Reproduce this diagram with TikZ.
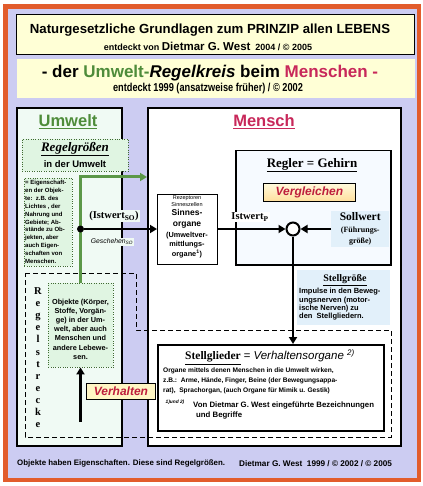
\documentclass[tikz,border=0pt]{standalone}
\usepackage{fontspec}
\setmainfont{Liberation Serif}
\setsansfont{Liberation Sans}
\newfontfamily\narrowsans[FakeStretch=0.8]{Liberation Sans}
\usetikzlibrary{arrows.meta,positioning,calc}

\definecolor{lavender}{RGB}{204,204,242}
\definecolor{frameorange}{RGB}{226,92,44}
\definecolor{titleyellow}{RGB}{255,255,214}
\definecolor{mint}{RGB}{240,250,244}
\definecolor{boxgreen}{RGB}{224,245,226}
\definecolor{linegreen}{RGB}{92,152,72}
\definecolor{headgreen}{RGB}{78,140,58}
\definecolor{crimson}{RGB}{190,30,60}
\definecolor{menschred}{RGB}{200,40,90}
\definecolor{paleblue}{RGB}{226,240,250}
\definecolor{reglerbg}{RGB}{246,250,255}
\definecolor{tagyellow}{RGB}{255,246,196}

\newcommand\fsz[2]{\fontsize{#1}{#2}\selectfont}

\tikzset{
  panel/.style={draw=black, line width=1.6pt, inner sep=0pt, anchor=north west},
  dotbox/.style={draw=linegreen!70!black, dotted, fill=boxgreen, inner sep=0pt, anchor=north west},
  tagbox/.style={draw=black, line width=0.9pt, fill=tagyellow, text=crimson,
    font=\sffamily\bfseries\itshape\fsz{12}{12}, inner sep=0pt, anchor=north west},
  flow/.style={line width=2.6pt, -{Triangle[length=7pt,width=8pt]}},
  txt/.style={align=center, inner sep=0pt},
  sanstxt/.style={txt, font=\sffamily\bfseries},
}

\begin{document}
\begin{tikzpicture}[x=1pt,y=-1pt]
\useasboundingbox (0,0) rectangle (422,486);
\draw[frameorange, line width=4.5pt, fill=lavender] (5.5,6.5) rectangle (419,480);

\node[panel, line width=1pt, fill=titleyellow, minimum width=398pt, minimum height=40pt] (titleA) at (16,14) {};
\node[sanstxt, font=\sffamily\bfseries\fsz{13.2}{14}] (titleAtop) at (210,30) {Naturgesetzliche Grundlagen zum PRINZIP allen LEBENS};
\node[sanstxt, font=\sffamily\bfseries\fsz{9}{10}] (titleAsub) at (208,46) {entdeckt von {\fsz{11.5}{10}Dietmar G. West}\ \ 2004 / © 2005};

\node[panel, draw=none, fill=titleyellow, minimum width=398pt, minimum height=39pt] (titleB) at (16,58) {};
\node[sanstxt, font=\sffamily\bfseries\fsz{17}{18}] (titleBtop) at (210,73) {- der {\color{headgreen}Umwelt-}{\itshape Regelkreis} beim {\color{menschred}Menschen -}};
\node[txt, font=\narrowsans\bfseries\fsz{11.5}{10}] (titleBsub) at (208,89) {entdeckt 1999 (ansatzweise früher) / © 2002};

\node[panel, fill=mint, minimum width=105pt, minimum height=338pt] (umwelt) at (16,107) {};
\node[panel, fill=white, minimum width=253pt, minimum height=338pt] (mensch) at (147,107) {};

\node[sanstxt, text=headgreen, font=\sffamily\bfseries\fsz{16.5}{16}] (umwelthead) at (68,122) {\underline{Umwelt}};
\node[sanstxt, text=menschred, font=\sffamily\bfseries\fsz{16.5}{16}] (menschhead) at (264,122) {\underline{Mensch}};

\node[dotbox, minimum width=106pt, minimum height=32pt] (regelgr) at (22,139) {};
\node[txt, font=\bfseries\itshape\fsz{13}{13}] (regelgrtop) at (75,149) {\underline{Regelgrößen}};
\node[sanstxt, font=\sffamily\bfseries\fsz{9.5}{10}] (regelgrsub) at (75,164) {in der Umwelt};

\node[dotbox, minimum width=48pt, minimum height=88pt] (eigensch) at (24,178) {};
\node[txt, align=left, anchor=north west, font=\sffamily\bfseries\fsz{6}{7.9}] (eigenschtxt) at (25,180)
  {= Eigenschaft-\\en der Objek-\\te:\ \ z.B. des\\Lichtes , der\\Nahrung und\\Gebiete; Ab-\\stände zu Ob-\\jekten, aber\\auch Eigen-\\schaften von\\Menschen.};

\draw[dashed, line width=1pt, dash pattern=on 5pt off 3pt] (25,273) -- (136,273) -- (136,330) -- (391,330) -- (391,437) -- (25,437) -- cycle;
\foreach \ch [count=\i] in {R,e,g,e,l,s,t,r,e,c,k,e}
  \node[inner sep=0pt, anchor=base, font=\bfseries\fsz{10.5}{10}] (rs\i) at (38,282.4+12.1*\i) {\ch};

\node[dotbox, minimum width=65pt, minimum height=84pt] (objekte) at (48,283) {};
\node[sanstxt, font=\sffamily\bfseries\fsz{7.3}{9.2}] (objektetxt) at (80.5,329)
  {Objekte (Körper,\\Stoffe, Vorgän-\\ge) in der Um-\\welt, aber auch\\Menschen und\\andere Lebewe-\\sen.};

\coordinate (greenend) at (147,177);
\draw[linegreen, line width=3pt, -{Triangle[length=7pt,width=8pt]}] (objekte.north) |- (greenend);

\node[panel, line width=1.3pt, fill=white, minimum width=60pt, minimum height=70pt] (sinnes) at (157,194) {};
\node[txt, anchor=north, font=\sffamily\fsz{5.5}{6.8}] (sinnestop) at (187,196) {Rezeptoren\\Sinneszellen};
\node[sanstxt, anchor=north, font=\sffamily\bfseries\fsz{8.5}{11}] (sinnesmid) at (187,209) {Sinnes-\\organe};
\node[sanstxt, anchor=north, font=\sffamily\bfseries\fsz{7.3}{9.5}] (sinnesbot) at (187,232) {(Umweltver-\\mittlungs-\\organe\textsuperscript{1})};

\node[circle, fill=black, inner sep=0pt, minimum size=7pt] (istdot) at (80.5,229) {};
\draw[flow] (istdot) -- (istdot -| sinnes.west);
\node[txt, fill=mint, inner sep=1pt, font=\bfseries\fsz{10.5}{10}] (istso) at (114,216) {(Istwert\textsubscript{SO})};
\node[txt, fill=mint, inner sep=1pt, font=\sffamily\itshape\fsz{6.8}{7}] (geschehen) at (112,242) {Geschehen\textsubscript{SO}};

\node[panel, line width=1.5pt, fill=reglerbg, minimum width=155pt, minimum height=114pt] (regler) at (235,150) {};
\node[txt, font=\bfseries\fsz{13}{13}] (reglerhead) at (312,165) {\underline{Regler = Gehirn}};
\node[tagbox, minimum width=92pt, minimum height=18pt, top color=tagyellow!60!white, bottom color=tagyellow!80!orange] (vergleichen) at (263,183) {Vergleichen};

\node[circle, draw=black, line width=2pt, fill=white, inner sep=0pt, minimum size=13pt] (mixer) at (293,229) {};
\draw[flow] (sinnes.east |- mixer) -- (mixer.west);
\node[txt, fill=white, inner sep=1pt, font=\bfseries\fsz{10.5}{10}] (istp) at (250,217) {Istwert\textsubscript{P}};

\node[txt, fill=paleblue, inner sep=1.5pt, text width=55pt, anchor=north west, font=\bfseries\fsz{8}{11.5}] (sollwert) at (331,211)
  {{\fsz{11.5}{12}Sollwert}\\(Führungs-\\größe)};
\coordinate (sollstart) at (331,229);
\draw[flow] (sollstart) -- (mixer.east);

\node[panel, fill=white, minimum width=226pt, minimum height=86pt] (stell) at (157,344) {};
\draw[flow] (mixer.south) -- (mixer.south |- stell.north);

\node[inner sep=0pt, fill=paleblue, minimum width=93pt, minimum height=55pt, anchor=north west] (stellgrbg) at (297,270) {};
\node[txt, font=\bfseries\fsz{10}{10}] (stellgr) at (345,280) {\underline{Stellgröße}};
\node[txt, align=left, anchor=north west, font=\sffamily\bfseries\fsz{7.5}{8.4}] (stellgrtxt) at (299,288)
  {Impulse in den Beweg-\\ungsnerven (motor-\\ische Nerven) zu\\den\ \ Stellgliedern.};

\node[txt, font=\fsz{11.5}{12}] (stellhead) at (270,357)
  {\textbf{\underline{Stellglieder}} {\sffamily\itshape = Verhaltensorgane \textsuperscript{2)}}};
\node[txt, align=left, anchor=north west, font=\sffamily\bfseries\fsz{6.6}{9.7}] (stelltxt) at (163,368)
  {Organe mittels denen Menschen in die Umwelt wirken,\\z.B.:\ \ Arme, Hände, Finger, Beine (der Bewegungsappa-\\rat),\ \ Sprachorgan, (auch Organe für Mimik u. Gestik)};
\node[txt, font=\sffamily\bfseries\itshape\fsz{4.8}{5}] (fnmark) at (175,402) {1)und 2)};
\node[txt, align=left, anchor=north west, font=\sffamily\bfseries\fsz{7.8}{10}] (fntxt) at (193,402)
  {Von Dietmar G. West eingeführte Bezeichnungen\\\hspace*{3pt}und Begriffe};

\coordinate (vhfoot) at (80.5,422);
\draw[flow] (vhfoot) -- (vhfoot |- objekte.south);
\node[tagbox, minimum width=69pt, minimum height=16pt] (verhalten) at (86,383) {Verhalten};

\node[txt, anchor=west, font=\sffamily\bfseries\fsz{7.9}{8}] (footleft) at (17,463) {Objekte haben Eigenschaften. Diese sind Regelgrößen.};
\node[txt, anchor=west, font=\sffamily\bfseries\fsz{8.2}{8}] (footright) at (239,464) {Dietmar G. West\ \ 1999 / © 2002 / © 2005};
\end{tikzpicture}
\end{document}
